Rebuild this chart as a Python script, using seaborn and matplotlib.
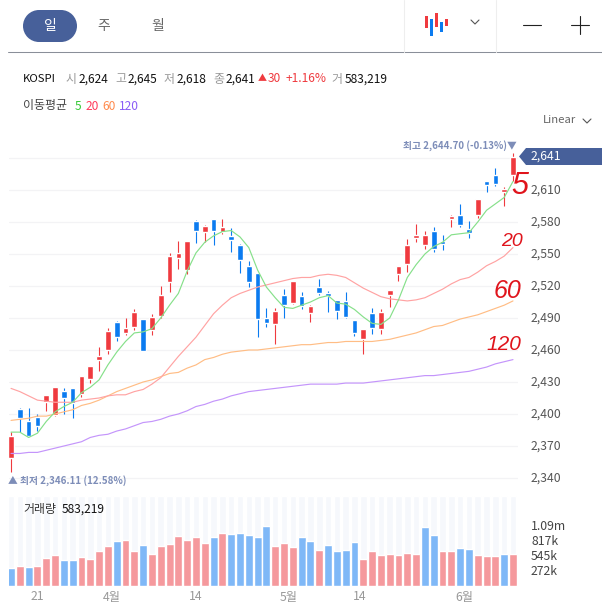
import numpy as np
import pandas as pd
import matplotlib
matplotlib.use('Agg')
import matplotlib.pyplot as plt
from matplotlib.patches import Polygon, Rectangle
import seaborn as sns

# 1. Data
opens = [2359,2405,2393,2397,2411,2399,2422,2424,2419,2433,2451,2460,2486,2476,2482,2489,2479,2492,2524,2546,
         2535,2581,2571,2583,2571,2567,2558,2539,2532,2490,2484,2512,2504,2511,2495,2519,2513,2507,2506,2488,
         2470,2495,2480,2512,2531,2541,2565,2558,2572,2562,2583,2587,2573,2587,2618,2624,2608,2624]
closes = [2379,2396,2379,2389,2418,2425,2415,2410,2436,2445,2454,2478,2472,2481,2496,2459,2491,2512,2548,2551,
          2562,2572,2576,2572,2575,2563,2544,2524,2489,2485,2497,2502,2525,2501,2501,2513,2511,2497,2491,2476,
          2480,2481,2496,2516,2539,2558,2568,2568,2555,2559,2586,2577,2570,2602,2615,2616,2611,2641]
highs = [2383,2406,2406,2400,2418,2425,2424,2424,2436,2445,2463,2481,2487,2490,2498,2489,2494,2520,2551,2562,
         2562,2582,2577,2583,2583,2574,2559,2543,2532,2499,2499,2517,2525,2514,2502,2527,2515,2507,2514,2488,
         2480,2499,2498,2516,2539,2564,2578,2572,2575,2568,2587,2597,2581,2602,2618,2631,2613,2645]
lows = [2346,2383,2379,2384,2403,2398,2400,2396,2416,2429,2440,2456,2468,2474,2479,2459,2474,2490,2514,2536,
        2531,2560,2561,2558,2569,2552,2532,2519,2472,2482,2466,2490,2503,2498,2486,2512,2496,2489,2490,2473,
        2456,2475,2475,2500,2525,2533,2561,2555,2552,2554,2575,2575,2565,2584,2608,2614,2595,2618]

ma5 = [2383,2383,2378,2382,2393,2402,2407,2411,2420,2425,2432,2446,2458,2468,2476,2477,2480,2490,2502,2513,
       2534,2551,2561,2567,2571,2572,2566,2556,2535,2519,2509,2500,2499,2502,2505,2509,2511,2504,2503,2498,
       2491,2485,2484,2490,2507,2528,2540,2550,2557,2561,2568,2569,2570,2580,2591,2597,2603,2618]
ma20 = [2424,2421,2417,2413,2412,2411,2411,2411,2413,2414,2415,2417,2418,2418,2421,2423,2428,2434,2444,2454,
        2463,2472,2483,2494,2502,2509,2513,2516,2519,2521,2523,2525,2527,2528,2528,2530,2531,2530,2528,2523,
        2518,2514,2510,2508,2507,2506,2507,2509,2513,2517,2522,2526,2528,2533,2539,2543,2548,2556]
ma60 = [2394,2395,2396,2398,2398,2400,2402,2404,2408,2410,2413,2417,2421,2424,2427,2430,2432,2435,2438,2439,
        2443,2446,2451,2453,2456,2458,2459,2460,2460,2461,2462,2463,2464,2465,2465,2466,2467,2467,2468,2468,
        2468,2468,2469,2470,2472,2474,2476,2479,2482,2483,2486,2489,2491,2493,2496,2499,2502,2506]
ma120 = [2363,2363,2364,2364,2366,2368,2370,2372,2374,2378,2380,2381,2384,2386,2389,2392,2393,2395,2398,2400,
         2403,2407,2409,2412,2414,2417,2419,2421,2422,2423,2424,2425,2426,2427,2428,2428,2428,2428,2429,2429,
         2429,2430,2431,2432,2433,2434,2435,2436,2436,2437,2438,2439,2440,2442,2444,2447,2449,2451]

volumes = [323,360,342,360,506,561,470,470,525,488,634,726,817,836,634,744,580,726,763,909,
           836,891,781,891,964,946,964,927,891,1092,726,781,708,891,817,653,744,634,653,799,
           488,634,561,580,561,598,580,1074,927,634,634,689,671,561,543,543,580,583]
# r = red bar, b = blue bar
volume_dirs = list("brbrrrbbrrrrbrrbrrrrrrrbrbbbbbrrrbbrbbbbrrrrrrrbbrrbbrrrbr")

price_ticks = [2340,2370,2400,2430,2460,2490,2520,2550,2580,2610]
date_pos = [3, 11.5, 21, 31.5, 39.6, 51.5]
date_labels = ['21', '4월', '14', '5월', '14', '6월']
volume_tick_vals = [272, 545, 817, 1090]
volume_tick_labels = ['272k', '545k', '817k', '1.09m']

RED = '#ef3a3f'
BLUE = '#0b7bf0'
NAVY = '#47609a'

sns.set_style("white")
plt.rcParams['font.family'] = ['Noto Sans CJK KR', 'DejaVu Sans']

W, H = 602, 613
fig = plt.figure(figsize=(W / 100, H / 100), dpi=100)

def px_axes(left, top, right, bottom):
    return fig.add_axes([left / W, 1 - bottom / H, (right - left) / W, (bottom - top) / H])

# 2. Price panel
ax = px_axes(9, 130, 518, 490)
idx = np.arange(len(opens))
o, c, hi, lo = map(np.array, (opens, closes, highs, lows))
colors = [RED if b > a else BLUE for a, b in zip(o, c)]

for v in price_ticks + [2640]:
    ax.axhline(v, color='#f3f3f5', lw=0.9, zorder=0)
ax.vlines(idx, lo, hi, colors=colors, lw=0.8, zorder=2)
ax.bar(idx, np.abs(c - o), bottom=np.minimum(o, c), width=0.64, color=colors, zorder=2)

ma_df = pd.DataFrame({'i': idx, 'ma5': ma5, 'ma20': ma20, 'ma60': ma60, 'ma120': ma120})
for name, col in [('ma120', '#c495fb'), ('ma60', '#ffbd85'), ('ma20', '#ffa3a3'), ('ma5', '#86e08a')]:
    sns.lineplot(data=ma_df, x='i', y=name, color=col, lw=0.85, ax=ax, zorder=3, errorbar=None)

ax.set_xlim(-0.23, 57.57)
ax.set_ylim(2328.75, 2666.25)
ax.axis('off')

# 3. Volume panel
vax = px_axes(9, 496, 518, 586)
vol_max = 1647
vax.bar(idx, vol_max, width=0.74, color='#f6f8fc', zorder=0)
vol_df = pd.DataFrame({'i': idx, 'vol': volumes, 'dir': volume_dirs})
sns.barplot(data=vol_df, x='i', y='vol', hue='dir', palette={'r': '#f5999d', 'b': '#7fb8f7'},
            native_scale=True, dodge=False, width=0.9, saturation=1, legend=False,
            errorbar=None, ax=vax, zorder=2)
vax.set_xlim(-0.23, 57.57)
vax.set_ylim(0, vol_max)
vax.axis('off')

# 4. Header, labels and annotations, placed in pixels on a full-figure layer
ui = fig.add_axes([0, 0, 1, 1], zorder=5)
ui.set_xlim(0, W)
ui.set_ylim(H, 0)
ui.axis('off')
ui.patch.set_alpha(0)

def txt(x, y, s, color='#222222', size=8.6, ha='left', **kw):
    ui.text(x, y, s, color=color, fontsize=size, ha=ha, va='center', **kw)

ui.add_patch(Rectangle((39, 10), 22, 32, fc=NAVY, lw=0))
ui.add_patch(plt.Circle((39, 26), 16, fc=NAVY, lw=0))
ui.add_patch(plt.Circle((61, 26), 16, fc=NAVY, lw=0))
txt(50, 26, '일', color='white', size=10, ha='center', weight='medium')
txt(104, 26, '주', color='#666666', size=10, ha='center')
txt(158, 26, '월', color='#666666', size=10, ha='center')

ui.plot([8, W], [52, 52], color='#8a8f99', lw=0.75)
ui.plot([404, 404], [0, 52], color='#eeeeee', lw=0.75)
ui.plot([496, 496], [0, 52], color='#eeeeee', lw=0.75)

for x, y0, y1, col in [(426, 16, 28, RED), (431, 19, 36, BLUE), (436, 13, 27, RED), (441, 22, 32, BLUE), (446, 19, 26, RED)]:
    ui.add_patch(Rectangle((x - 1.5, y0), 3, y1 - y0, fc=col, lw=0))
ui.plot([471, 475, 479], [20, 24, 20], color='#555555', lw=0.8)
ui.plot([523, 541], [25, 25], color='#222222', lw=0.8)
ui.plot([571, 589], [25, 25], color='#222222', lw=0.8)
ui.plot([580, 580], [16, 34], color='#222222', lw=0.8)

txt(23, 79, 'KOSPI', weight='medium', size=8.2, color='#111111')
for x, label, val in [(66, '시', '2,624'), (115, '고', '2,645'), (164, '저', '2,618'), (213, '종', '2,641')]:
    txt(x, 79, label, color='#999999')
    txt(x + 13, 79, val, color='#111111', weight='medium')
txt(258, 79, '▲', color=RED, size=6.5)
txt(268, 79, '30', color=RED, weight='medium')
txt(286, 79, '+1.16%', color=RED, weight='medium')
txt(331, 79, '거', color='#999999')
txt(345, 79, '583,219', color='#111111', weight='medium')

txt(23, 106, '이동평균', color='#444444')
txt(75, 106, '5', color='#35c935')
txt(86, 106, '20', color='#ff3b5c')
txt(102, 106, '60', color='#ff8a4c')
txt(119, 106, '120', color='#8b5cf6')

txt(543, 120, 'Linear', color='#666666', size=8.2)
ui.plot([583, 587, 591], [119, 123, 119], color='#555555', lw=0.8)

for v in price_ticks:
    txt(531, 478 - (v - 2340) * 32 / 30, f'{v:,}', color='#555555', size=8.8)
ui.add_patch(Polygon([(519, 156.5), (526, 148), (W, 148), (W, 165), (526, 165)], fc=NAVY, lw=0))
txt(531, 156.5, '2,641', color='white', size=8.8)

txt(517, 146, '최고 2,644.70 (-0.13%)▼', color='#7d8db8', size=7, ha='right', weight='bold')
txt(8, 481, '▲ 최저 2,346.11 (12.58%)', color='#7d8db8', size=7, weight='bold')

txt(23, 509, '거래량', color='#333333', size=8.6)
txt(62, 509, '583,219', color='#111111', size=8.6, weight='medium')

for v, s in zip(volume_tick_vals, volume_tick_labels):
    txt(531, 586 - v / vol_max * 90, s, color='#444444', size=8.8)
for p, s in zip(date_pos, date_labels):
    txt(11 + p * 8.807, 597, s, color='#999999', size=8.8, ha='center')

# handwritten labels on the reference
for x, y, s, size in [(520, 186, '5', 22), (512, 241, '20', 14), (507, 291, '60', 18), (504, 345, '120', 15)]:
    txt(x, y, s, color='#e0141c', size=size, ha='center', style='italic', family='Liberation Sans')

plt.savefig('out.png', dpi=100)
